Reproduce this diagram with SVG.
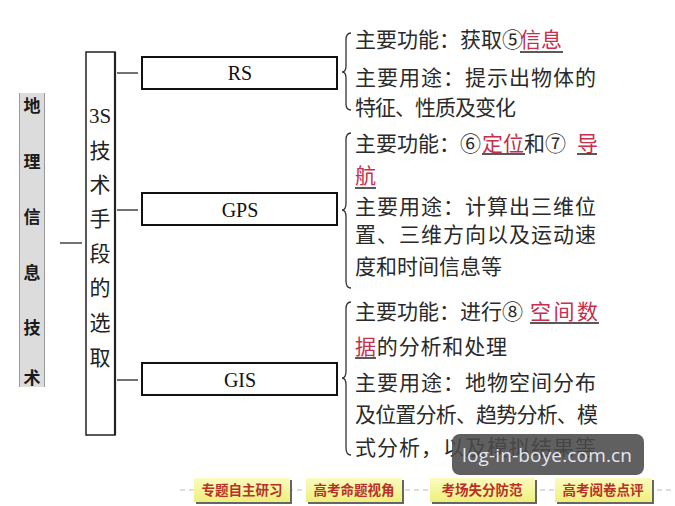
<svg xmlns="http://www.w3.org/2000/svg" width="675" height="506" viewBox="0 0 675 506">
<defs>
<style>
.cn{font-family:"Noto Sans CJK SC","Noto Sans",sans-serif;font-size:21px;fill:#2a2a2a}
.red{fill:#c4304e}
.ttl{font-family:"Liberation Serif","Noto Sans CJK SC",serif;font-size:20px;fill:#111;text-anchor:middle}
.vt{font-family:"Liberation Serif","Noto Sans CJK SC",serif;font-size:21px;fill:#222;text-anchor:middle}
.lt{font-family:"Noto Sans CJK SC",sans-serif;font-size:17px;font-weight:bold;fill:#1a1a1a;text-anchor:middle}
.box{fill:#fff;stroke:#111;stroke-width:2}
.conn{stroke:#444;stroke-width:1.5;fill:none}
.brace{stroke:#333;stroke-width:1.3;fill:none}
.ul{stroke:#222;stroke-width:1.5}
.btn{fill:url(#yg)}
.btnsh{fill:#666}
.bt{font-family:"Noto Sans CJK SC",sans-serif;font-size:13.5px;font-weight:bold;fill:#b8302a;text-anchor:middle}
</style>
<linearGradient id="yg" x1="0" y1="0" x2="0" y2="1">
<stop offset="0" stop-color="#fbfbc0"/>
<stop offset="1" stop-color="#eef07a"/>
</linearGradient>
</defs>
<rect width="675" height="506" fill="#fff"/>

<g id="node-dili">
<rect x="19" y="93" width="26" height="294" fill="#dcdcdc"/>
<line x1="19.5" y1="93" x2="19.5" y2="387" stroke="#999" stroke-width="1"/>
<line x1="44.5" y1="93" x2="44.5" y2="387" stroke="#999" stroke-width="1"/>
<text class="lt" x="32" y="112">地</text>
<text class="lt" x="32" y="168">理</text>
<text class="lt" x="32" y="223">信</text>
<text class="lt" x="32" y="279">息</text>
<text class="lt" x="32" y="334">技</text>
<text class="lt" x="32" y="384">术</text>
</g>

<g id="node-3s">
<rect x="86" y="52" width="29" height="383" fill="#fff" stroke="#222" stroke-width="1.5"/>
<line x1="115" y1="52" x2="115" y2="435" stroke="#222" stroke-width="2.2"/>
<text class="vt" x="100" y="123">3S</text>
<text class="vt" x="100" y="158">技</text>
<text class="vt" x="100" y="192">术</text>
<text class="vt" x="100" y="226">手</text>
<text class="vt" x="100" y="261">段</text>
<text class="vt" x="100" y="295">的</text>
<text class="vt" x="100" y="330">选</text>
<text class="vt" x="100" y="365">取</text>
</g>

<g id="node-rs">
<rect class="box" x="142" y="57" width="195" height="32"/>
<text class="ttl" x="240" y="80">RS</text>
</g>
<g id="node-gps">
<rect class="box" x="142" y="193" width="195" height="32"/>
<text class="ttl" x="240" y="217">GPS</text>
</g>
<g id="node-gis">
<rect class="box" x="142" y="363" width="195" height="32"/>
<text class="ttl" x="240" y="387">GIS</text>
</g>

<g id="connectors">
<line class="conn" x1="60" y1="243" x2="82" y2="243"/>
<line class="conn" x1="117" y1="73" x2="138" y2="73"/>
<line class="conn" x1="117" y1="210" x2="138" y2="210"/>
<line class="conn" x1="117" y1="380" x2="138" y2="380"/>
<path class="brace" d="M351,33 Q346,33 346,40 L346,66 Q346,72 342,72 Q346,72 346,78 L346,104 Q346,110 351,110"/>
<path class="brace" d="M351,133 Q346,133 346,140 L346,203 Q346,210 342,210 Q346,210 346,217 L346,281 Q346,288 351,288"/>
<path class="brace" d="M351,302 Q346,302 346,309 L346,371 Q346,378 342,378 Q346,378 346,385 L346,448 Q346,455 351,455"/>
</g>

<g id="node-rs-desc">
<text class="cn" x="355" y="47">主要功能：获取⑤</text>
<text class="cn red" x="520" y="47">信息</text>
<line class="ul" x1="520" y1="52" x2="563" y2="52"/>
<text class="cn" x="355" y="85" textLength="241">主要用途：提示出物体的</text>
<text class="cn" x="355" y="115" textLength="161">特征、性质及变化</text>
</g>

<g id="node-gps-desc">
<text class="cn" x="355" y="151">主要功能：⑥</text>
<text class="cn red" x="482" y="151">定位</text>
<text class="cn" x="524" y="151">和⑦</text>
<text class="cn red" x="577" y="151">导</text>
<line class="ul" x1="482" y1="154" x2="525" y2="154"/>
<line class="ul" x1="577" y1="154" x2="597" y2="154"/>
<text class="cn red" x="355" y="183">航</text>
<line class="ul" x1="355" y1="188" x2="376" y2="188"/>
<text class="cn" x="355" y="214" textLength="241">主要用途：计算出三维位</text>
<text class="cn" x="355" y="242" textLength="241">置、三维方向以及运动速</text>
<text class="cn" x="355" y="274">度和时间信息等</text>
</g>

<g id="node-gis-desc">
<text class="cn" x="355" y="319">主要功能：进行⑧</text>
<text class="cn red" x="530" y="319" textLength="68">空间数</text>
<line class="ul" x1="530" y1="323" x2="599" y2="323"/>
<text class="cn" x="355" y="354" textLength="152"><tspan class="red">据</tspan>的分析和处理</text>
<line class="ul" x1="355" y1="358" x2="376" y2="358"/>
<text class="cn" x="355" y="390" textLength="241">主要用途：地物空间分布</text>
<text class="cn" x="355" y="422" textLength="243">及位置分析、趋势分析、模</text>
<text class="cn" x="355" y="455" textLength="241">式分析，以及模拟结果等</text>
</g>

<g id="footer">
<line x1="180" y1="490" x2="675" y2="490" stroke="#bbb" stroke-width="1" stroke-dasharray="5,4"/>
<rect class="btnsh" x="196" y="480" width="96" height="24"/>
<rect class="btn" x="194" y="478" width="96" height="24"/>
<text class="bt" x="242" y="495">专题自主研习</text>
<rect class="btnsh" x="308" y="480" width="96" height="24"/>
<rect class="btn" x="306" y="478" width="96" height="24"/>
<text class="bt" x="354" y="495">高考命题视角</text>
<rect class="btnsh" x="432" y="480" width="105" height="24"/>
<rect class="btn" x="430" y="478" width="105" height="24"/>
<text class="bt" x="482" y="495">考场失分防范</text>
<rect class="btnsh" x="557" y="480" width="97" height="24"/>
<rect class="btn" x="555" y="478" width="97" height="24"/>
<text class="bt" x="603" y="495">高考阅卷点评</text>
</g>

<g id="watermark">
<rect x="452" y="434" width="192" height="41" rx="8" fill="#4a4a4a" fill-opacity="0.88"/>
<text x="462" y="462" font-family="'Open Sans','Noto Sans',sans-serif" font-size="19" fill="#e6e6f0" textLength="170">log-in-boye.com.cn</text>
</g>
</svg>
